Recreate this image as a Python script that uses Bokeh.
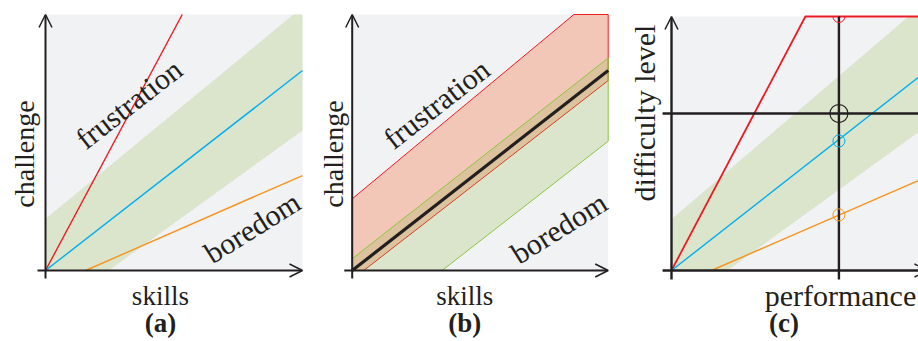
import math
from bokeh.plotting import figure
from bokeh.layouts import row
from bokeh.models import Arrow, OpenHead
from bokeh.core.properties import value
from bokeh.embed import file_html
from bokeh.resources import INLINE

# ---------------- data (unit square: x = skills / performance, y = challenge / difficulty)
# panel (a): three difficulty rules and the flow channel
red_x = [0.0, 0.532]
red_y = [0.0, 1.0]
blue_x = [0.0, 1.0]
blue_y = [0.0, 0.781]
orange_x = [0.156, 1.0]
orange_y = [0.0, 0.371]
flow_x = [0.0, 0.0, 0.965, 1.0, 1.0, 0.246]
flow_y = [0.0, 0.202, 1.0, 1.0, 0.547, 0.0]

# panel (b): frustration band, boredom band and ideal line
frus_x = [0.0, 0.0, 0.866, 1.0, 1.0, 0.045]
frus_y = [0.0, 0.28, 1.0, 1.0, 0.742, 0.0]
bore_x = [0.0, 0.0, 1.0, 1.0, 0.351]
bore_y = [0.0, 0.046, 0.83, 0.505, 0.0]
ideal_x = [0.0, 1.0]
ideal_y = [0.0, 0.781]

# panel (c): rules applied to one performance value
c_red_x = [0.0, 0.523, 1.0]
c_red_y = [0.0, 1.0, 1.0]
c_blue_x = [0.0, 1.0]
c_blue_y = [0.0, 0.789]
c_orange_x = [0.156, 1.0]
c_orange_y = [0.0, 0.37]
c_flow_x = [0.0, 0.0, 0.926, 1.0, 1.0, 0.219]
c_flow_y = [0.0, 0.202, 1.0, 1.0, 0.570, 0.0]
perf_value = 0.654
level_value = 0.618
marker_y = [1.0, 0.51, 0.219]   # red (top), blue, orange

# text
tags = ["(a)", "(b)", "(c)"]
x_labels = ["skills", "skills", "performance"]
y_labels = ["challenge", "challenge", "difficulty level"]
zone_labels = ["frustration", "boredom"]
zone_angles = [38, 32]   # degrees

# ---------------- styles
GRAY = "#f1f2f4"
GREEN = "#8db73e"
GREEN_LINE = "#8dc63f"
SALMON = "#f2c7b8"
RED = "#ed1c24"
CYAN = "#00aeef"
ORANGE = "#f7941d"
INK = "#231f20"
FONT = value("Liberation Serif")

H = 341
ORIGIN_ROW = 270


def make_fig(width, left_px, sx, sy):
    # origin lies at column left_px of the figure and row ORIGIN_ROW from its top
    p = figure(width=width, height=H,
               x_range=(-left_px / sx, (width - left_px) / sx),
               y_range=(-(H - ORIGIN_ROW) / sy, ORIGIN_ROW / sy),
               toolbar_location=None, output_backend="svg",
               x_axis_location=None, y_axis_location=None,
               min_border=0, outline_line_color=None,
               background_fill_color="white", border_fill_color="white")
    p.grid.grid_line_color = None
    return p


def axes(p, ext_x, ext_y, lw):
    head = dict(size=13, line_width=1.5, line_color=INK)
    p.add_layout(Arrow(end=OpenHead(**head), x_start=ext_x, y_start=0, x_end=1.0, y_end=0,
                       line_width=lw, line_color=INK))
    p.add_layout(Arrow(end=OpenHead(**head), x_start=0, y_start=ext_y, x_end=0, y_end=1.0,
                       line_width=lw, line_color=INK))


def txt(p, x, y, s, size, angle=0, bold=False, baseline="alphabetic"):
    p.text(x=[x], y=[y], text=[s], angle=angle, angle_units="deg",
           text_font=FONT, text_font_size=size, text_color=INK,
           text_font_style="bold" if bold else "normal",
           text_align="center", text_baseline=baseline)


# ---------------- panel (a)
pa = make_fig(316, 45, 257, 256)
pa.quad(left=0, right=1, bottom=0, top=1, fill_color=GRAY, line_color=None)
pa.patch(flow_x, flow_y, fill_color=GREEN, fill_alpha=0.22, line_color=None)
pa.line(red_x, red_y, line_color=RED, line_width=1.4)
pa.line(blue_x, blue_y, line_color=CYAN, line_width=1.4)
pa.line(orange_x, orange_y, line_color=ORANGE, line_width=1.4)
axes(pa, -0.031, -0.031, 2)
txt(pa, -0.082, 0.455, y_labels[0], "28px", angle=90)
txt(pa, 0.447, -0.098, x_labels[0], "27px")
txt(pa, 0.447, -0.207, tags[0], "27px", bold=True)
txt(pa, 0.324, 0.651, zone_labels[0], "30px", angle=zone_angles[0], baseline="middle")
txt(pa, 0.804, 0.169, zone_labels[1], "30px", angle=zone_angles[1], baseline="middle")

# ---------------- panel (b)
pb = make_fig(308, 35.7, 256, 256)
pb.quad(left=0, right=1, bottom=0, top=1, fill_color=GRAY, line_color=None)
pb.patch(frus_x, frus_y, fill_color=SALMON, line_color=RED, line_width=1)
pb.patch(bore_x, bore_y, fill_color=GREEN, fill_alpha=0.22, line_color=GREEN_LINE, line_width=1)
pb.line(ideal_x, ideal_y, line_color=INK, line_width=3.2)
axes(pb, -0.031, -0.031, 2)
txt(pb, -0.074, 0.455, y_labels[1], "28px", angle=90)
txt(pb, 0.44, -0.098, x_labels[1], "27px")
txt(pb, 0.44, -0.207, tags[1], "27px", bold=True)
txt(pb, 0.329, 0.651, zone_labels[0], "30px", angle=zone_angles[0], baseline="middle")
txt(pb, 0.807, 0.167, zone_labels[1], "30px", angle=zone_angles[1], baseline="middle")

# ---------------- panel (c)
pc = make_fig(294, 47, 256, 254)
pc.quad(left=0, right=1, bottom=0, top=1, fill_color=GRAY, line_color=None)
pc.patch(c_flow_x, c_flow_y, fill_color=GREEN, fill_alpha=0.22, line_color=None)
pc.line(c_red_x, c_red_y, line_color=RED, line_width=1.8)
pc.line(c_blue_x, c_blue_y, line_color=CYAN, line_width=1.4)
pc.line(c_orange_x, c_orange_y, line_color=ORANGE, line_width=1.4)
pc.segment(x0=[perf_value, -0.035], y0=[-0.035, level_value],
           x1=[perf_value, 1.0], y1=[1.0, level_value],
           line_color=INK, line_width=2.4)
axes(pc, -0.035, -0.035, 2.4)
pc.arc(x=[perf_value], y=[marker_y[0]], radius=6, radius_units="screen",
       start_angle=math.pi, end_angle=2 * math.pi, line_color=RED, line_width=1)
pc.scatter(x=[perf_value, perf_value], y=marker_y[1:], marker="circle", size=12,
           fill_color=None, line_color=[CYAN, ORANGE], line_width=1)
pc.scatter(x=[perf_value], y=[level_value], marker="circle", size=18,
           fill_color=None, line_color=INK, line_width=1.2)
txt(pc, -0.106, 0.62, y_labels[2], "30px", angle=90)
txt(pc, 0.66, -0.10, x_labels[2], "30px")
txt(pc, 0.439, -0.205, tags[2], "27px", bold=True)

layout = row(pa, pb, pc)
open("out.html", "w").write(file_html(layout, INLINE))
